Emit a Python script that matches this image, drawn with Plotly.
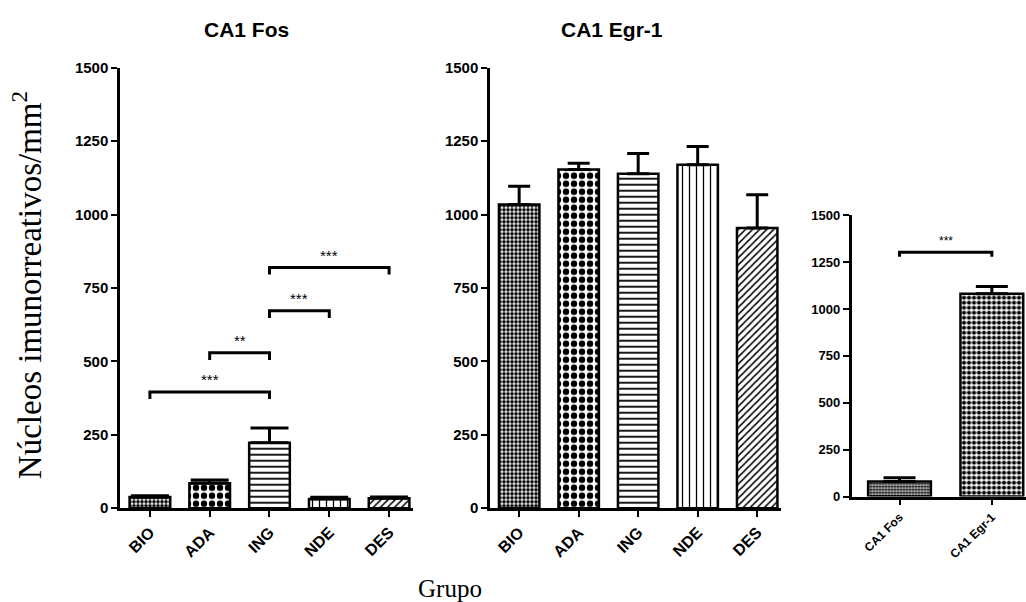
import plotly.graph_objects as go

# Group labels and measurements (mean and SEM, nuclei/mm2)
groups = ["BIO", "ADA", "ING", "NDE", "DES"]
fos_mean = [38, 85, 223, 31, 34]
fos_sem = [4, 11, 50, 6, 4]
egr_mean = [1034, 1153, 1139, 1170, 954]
egr_sem = [62, 22, 69, 62, 113]

regions = ["CA1 Fos", "CA1 Egr-1"]
region_mean = [81, 1081]
region_sem = [20, 39]

# Pairwise comparisons: (first index, second index, bracket height, label)
fos_brackets = [(0, 2, 396, "***"), (1, 2, 529, "**"), (2, 3, 672, "***"), (2, 4, 820, "***")]
region_brackets = [(0, 1, 1303, "***")]

y_ticks = [0, 250, 500, 750, 1000, 1250, 1500]

# Fill patterns per group
group_shapes = [".", ".", "-", "|", "/"]
group_sizes = [4, 8, 6, 7, 5]
group_solid = [0.65, 0.5, 0.3, 0.18, 0.3]

W, H = 1026, 602
def px(x):
    return x / W
def py(y):
    # vertical pixel (from top) -> paper fraction, with the page's small vertical inset
    return 1 - ((y - 7.5) / 0.973) / H

fig = go.Figure()

def add_bars(xa, ya, cats, means, sems, shapes, sizes, solid, cap):
    fig.add_trace(go.Bar(
        x=cats, y=means, xaxis=xa, yaxis=ya, width=0.68,
        marker=dict(
            color="white",
            line=dict(color="black", width=2.5),
            pattern=dict(shape=shapes, size=sizes, solidity=solid,
                         fgcolor="black", bgcolor="white", fillmode="replace"),
        ),
        error_y=dict(type="data", array=sems, arrayminus=[0] * len(sems),
                     symmetric=False, color="black", thickness=3, width=cap),
        showlegend=False, hoverinfo="skip",
    ))

def add_brackets(xa, ya, cats, brackets, drop, gap, fsize):
    for i, j, h, lab in brackets:
        fig.add_trace(go.Scatter(
            x=[cats[i], cats[i], cats[j], cats[j]], y=[h - drop, h, h, h - drop],
            xaxis=xa, yaxis=ya, mode="lines",
            line=dict(color="black", width=3), showlegend=False, hoverinfo="skip",
        ))
        fig.add_annotation(
            x=(i + j) / 2, y=h + gap, xref=xa, yref=ya, text=lab, showarrow=False,
            xanchor="center", yanchor="middle",
            font=dict(family="Liberation Sans", size=fsize, color="black"),
        )

add_bars("x", "y", groups, fos_mean, fos_sem, group_shapes, group_sizes, group_solid, 19)
add_brackets("x", "y", groups, fos_brackets, 24, 42, 15)

add_bars("x2", "y2", groups, egr_mean, egr_sem, group_shapes, group_sizes, group_solid, 11)

add_bars("x3", "y3", regions, region_mean, region_sem, [".", "."], [3, 5], [0.6, 0.55], 16)
add_brackets("x3", "y3", regions, region_brackets, 24, 60, 12)

def axis_style(size):
    return dict(
        showline=True, linecolor="black", linewidth=2.5, ticks="outside",
        tickcolor="black", tickwidth=2, ticklen=6, showgrid=False, zeroline=False,
        tickfont=dict(family="Liberation Sans", size=size, color="black", weight="bold"),
    )

fig.update_layout(
    width=W, height=H, margin=dict(l=0, r=0, t=0, b=0),
    paper_bgcolor="white", plot_bgcolor="white", bargap=0.32,
    xaxis=dict(domain=[px(120), px(413)], range=[-0.5, 4.4], anchor="y",
               tickangle=-45, **axis_style(16)),
    yaxis=dict(domain=[py(507.3), py(66.3)], range=[0, 1500], anchor="x",
               tickvals=y_ticks, **axis_style(15)),
    xaxis2=dict(domain=[px(490), px(781)], range=[-0.49, 4.4], anchor="y2",
                tickangle=-45, **axis_style(16)),
    yaxis2=dict(domain=[py(507.3), py(66.3)], range=[0, 1500], anchor="x2",
                tickvals=y_ticks, **axis_style(15)),
    xaxis3=dict(domain=[px(851.5), 1.0], range=[-0.52, 1.37], anchor="y3",
                tickangle=-45, **axis_style(12)),
    yaxis3=dict(domain=[py(495.7), py(214)], range=[0, 1500], anchor="x3",
                tickvals=y_ticks, **axis_style(13)),
)

# Panel titles and shared axis titles
def label(x, y, text, family, size, angle=0):
    fig.add_annotation(x=px(x), y=py(y), xref="paper", yref="paper", text=text,
                       textangle=angle, showarrow=False, xanchor="center", yanchor="middle",
                       font=dict(family=family, size=size, color="black"))

label(246, 28, "<b>CA1 Fos</b>", "Liberation Sans", 21)
label(612, 28, "<b>CA1 Egr-1</b>", "Liberation Sans", 21)
label(27, 284, "Núcleos imunorreativos/mm<sup>2</sup>", "Liberation Serif", 33, -90)
label(450, 588, "Grupo", "Liberation Serif", 25)

fig.write_html("out.html")
